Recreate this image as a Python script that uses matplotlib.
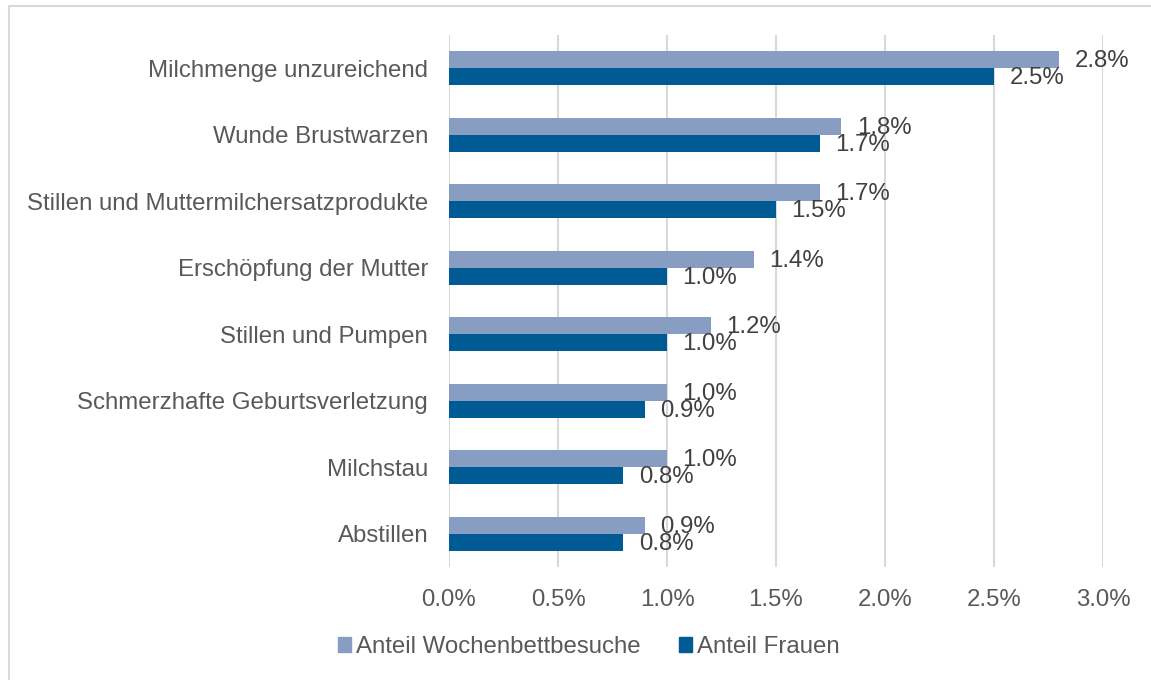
import matplotlib
matplotlib.use("Agg")
import matplotlib.pyplot as plt
from matplotlib.patches import Patch, Rectangle
from matplotlib.ticker import FuncFormatter
import numpy as np

plt.rcParams['font.family'] = ['Liberation Sans', 'DejaVu Sans']

categories = [
    "Milchmenge unzureichend",
    "Wunde Brustwarzen",
    "Stillen und Muttermilchersatzprodukte",
    "Erschöpfung der Mutter",
    "Stillen und Pumpen",
    "Schmerzhafte Geburtsverletzung",
    "Milchstau",
    "Abstillen",
]
besuche = [2.8, 1.8, 1.7, 1.4, 1.2, 1.0, 1.0, 0.9]
frauen = [2.5, 1.7, 1.5, 1.0, 1.0, 0.9, 0.8, 0.8]
series_names = ["Anteil Wochenbettbesuche", "Anteil Frauen"]
x_ticks = [0.0, 0.5, 1.0, 1.5, 2.0, 2.5, 3.0]

c_light = "#889DC2"
c_dark = "#005A94"
txt = "#595959"
lbl = "#404040"
grid = "#D9D9D9"
fs = 17.3

W, H = 1151, 680
fig = plt.figure(figsize=(W / 100, H / 100), dpi=100)
ax = fig.add_axes([449 / W, 1 - 567 / H, (1103 - 449) / W, (567 - 35) / H])

# outer chart border (only left and top visible in the crop)
fig.patches.append(Rectangle((8.5 / W, -0.1), 1.2, 1.1 - 6.5 / H, transform=fig.transFigure,
                             fill=False, edgecolor=grid, lw=1.5))

y = np.arange(len(categories))
h = 0.256
b1 = ax.barh(y - h / 2, besuche, height=h, color=c_light, label=series_names[0])
b2 = ax.barh(y + h / 2, frauen, height=h, color=c_dark, label=series_names[1])

for bars, vals in [(b1, besuche), (b2, frauen)]:
    for bar, v in zip(bars, vals):
        ax.annotate(f"{v:.1f}%", (v, bar.get_y() + bar.get_height() / 2),
                    xytext=(11, -1), textcoords="offset points",
                    ha="left", va="center", fontsize=fs, color=lbl)

ax.set_xlim(0, 3.0)
ax.set_ylim(len(categories) - 0.5, -0.5)
ax.set_xticks(x_ticks)
ax.xaxis.set_major_formatter(FuncFormatter(lambda v, p: f"{v:.1f}%"))
ax.set_yticks(y)
ax.set_yticklabels(categories)
ax.tick_params(axis="both", length=0, labelsize=fs, labelcolor=txt)
ax.tick_params(axis="y", pad=15)
ax.tick_params(axis="x", pad=16)
ax.grid(axis="x", color=grid, lw=1.5)
ax.set_axisbelow(True)
for s in ax.spines.values():
    s.set_visible(False)

handles = [Patch(color=c_light), Patch(color=c_dark)]
fig.legend(handles, series_names, loc="center", bbox_to_anchor=(589 / W, 1 - 647 / H),
           ncol=2, frameon=False, fontsize=fs, labelcolor=txt,
           handlelength=0.55, handleheight=0.55, handletextpad=0.2, columnspacing=1.6,
           borderpad=0, borderaxespad=0)

fig.savefig("out.png", dpi=100)
